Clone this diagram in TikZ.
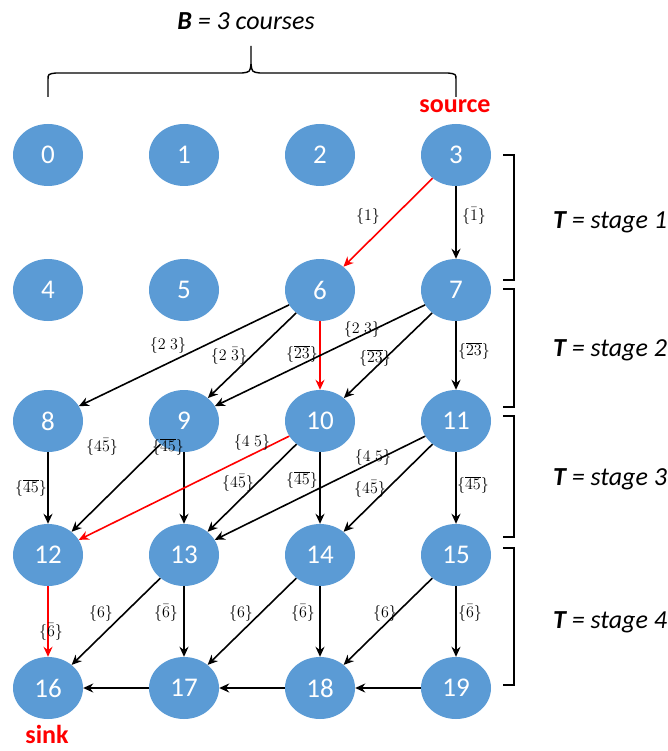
\RequirePackage{fix-cm}
\documentclass[tikz,border=0pt]{standalone}
\usepackage{fontspec}
\setmainfont{Carlito}
\usetikzlibrary{arrows.meta,shapes.geometric}
\definecolor{nodeblue}{HTML}{5B9BD5}
\begin{document}
\begin{tikzpicture}[x=1pt,y=-1pt,
  vert/.style={ellipse, fill=nodeblue, minimum width=70pt, minimum height=62pt, inner sep=0pt, text=white, font=\fontsize{27}{27}\selectfont},
  arc/.style={draw=black, line width=1.6pt, -{Stealth[length=10pt,width=9pt]}},
  redarc/.style={arc, draw=red},
  lab/.style={font=\fontsize{16}{16}\selectfont, inner sep=0.5pt},
  bigtxt/.style={font=\fontsize{26}{26}\selectfont\itshape, inner sep=0pt},
  redtxt/.style={font=\fontsize{26}{26}\selectfont\bfseries, text=red, inner sep=0pt},
  brk/.style={draw=black, line width=1.4pt}
]
\useasboundingbox (0,0) rectangle (668,751);
% nodes
\foreach \n/\x/\y in {0/48/155,1/184/155,2/320/155,3/456/155,
                      4/48/290,5/184/290,6/320/290,7/456/290,
                      8/48/421,9/184/421,10/320/421,11/456/421,
                      12/48/555,13/184/555,14/320/555,15/456/555,
                      16/48/688,17/184/688,18/320/688,19/456/688}
  \node[vert] (n\n) at (\x,\y) {\n};

% top brace
\node[bigtxt] (title) at (246,21) {\textbf{B} = 3 courses};
\draw[brk] (48,97) -- (48,80) .. controls (48,74) .. (56,73) -- (242,73) .. controls (250,72) .. (251,64) -- (251,46);
\draw[brk] (251,64) .. controls (252,72) .. (260,73) -- (448,73) .. controls (456,74) .. (456,80) -- (456,97);
\node[redtxt] (source) at (455,106) {source};
\node[redtxt] (sink) at (47,734) {sink};

% right brackets
\draw[brk] (503,155) -- (514,155) -- (514,280) -- (503,280);
\draw[brk] (503,289) -- (514,289) -- (514,407) -- (503,407);
\draw[brk] (503,416) -- (514,416) -- (514,537) -- (503,537);
\draw[brk] (503,548) -- (514,548) -- (514,685) -- (503,685);
\node[bigtxt] (s1) at (610,222) {\textbf{T} = stage 1};
\node[bigtxt] (s2) at (610,350) {\textbf{T} = stage 2};
\node[bigtxt] (s3) at (610,479) {\textbf{T} = stage 3};
\node[bigtxt] (s4) at (610,622) {\textbf{T} = stage 4};

% stage 1
\draw[redarc] (n3) -- (n6);
\draw[arc] (n3) -- (n7);
\node[lab] (l36) at (368,216) {$\{1\}$};
\node[lab] (l37) at (474,216) {$\{\bar 1\}$};

% stage 2
\draw[arc] (n6) -- (n8);
\draw[arc] (n6) -- (n9);
\draw[redarc] (n6) -- (n10);
\draw[arc] (n7) -- (n9);
\draw[arc] (n7) -- (n10);
\draw[arc] (n7) -- (n11);
\node[lab] (l68) at (168,345) {$\{2\;3\}$};
\node[lab] (l69) at (229,356) {$\{2\;\bar 3\}$};
\node[lab] (l610) at (302,354) {$\{\overline{23}\}$};
\node[lab] (l79) at (362,329) {$\{2\;3\}$};
\node[lab] (l710) at (375,358) {$\{\overline{23}\}$};
\node[lab] (l711) at (474,351) {$\{\overline{23}\}$};

% stage 3
\draw[arc] (n8) -- (n12);
\draw[arc] (n9) -- (n12);
\draw[arc] (n9) -- (n13);
\draw[redarc] (n10) -- (n12);
\draw[arc] (n10) -- (n13);
\draw[arc] (n10) -- (n14);
\draw[arc] (n11) -- (n13);
\draw[arc] (n11) -- (n14);
\draw[arc] (n11) -- (n15);
\node[lab] (l812) at (31,488) {$\{\overline{45}\}$};
\node[lab] (l912) at (102,447) {$\{4\bar 5\}$};
\node[lab] (l913) at (168,447) {$\{\overline{45}\}$};
\node[lab] (l1012) at (252,442) {$\{4\;5\}$};
\node[lab] (l1013) at (238,483) {$\{4\bar 5\}$};
\node[lab] (l1014) at (302,480) {$\{\overline{45}\}$};
\node[lab] (l1113) at (373,457) {$\{4\;5\}$};
\node[lab] (l1114) at (370,489) {$\{4\bar 5\}$};
\node[lab] (l1115) at (473,485) {$\{\overline{45}\}$};

% stage 4
\draw[redarc] (n12) -- (n16);
\draw[arc] (n13) -- (n16);
\draw[arc] (n13) -- (n17);
\draw[arc] (n14) -- (n17);
\draw[arc] (n14) -- (n18);
\draw[arc] (n15) -- (n18);
\draw[arc] (n15) -- (n19);
\node[lab] (l1216) at (51,632) {$\{\bar 6\}$};
\node[lab] (l1316) at (101,613) {$\{6\}$};
\node[lab] (l1317) at (166,613) {$\{\bar 6\}$};
\node[lab] (l1417) at (241,613) {$\{6\}$};
\node[lab] (l1418) at (303,613) {$\{\bar 6\}$};
\node[lab] (l1518) at (385,613) {$\{6\}$};
\node[lab] (l1519) at (470,613) {$\{\bar 6\}$};

% sink row
\draw[arc] (n17) -- (n16);
\draw[arc] (n18) -- (n17);
\draw[arc] (n19) -- (n18);
\end{tikzpicture}
\end{document}
